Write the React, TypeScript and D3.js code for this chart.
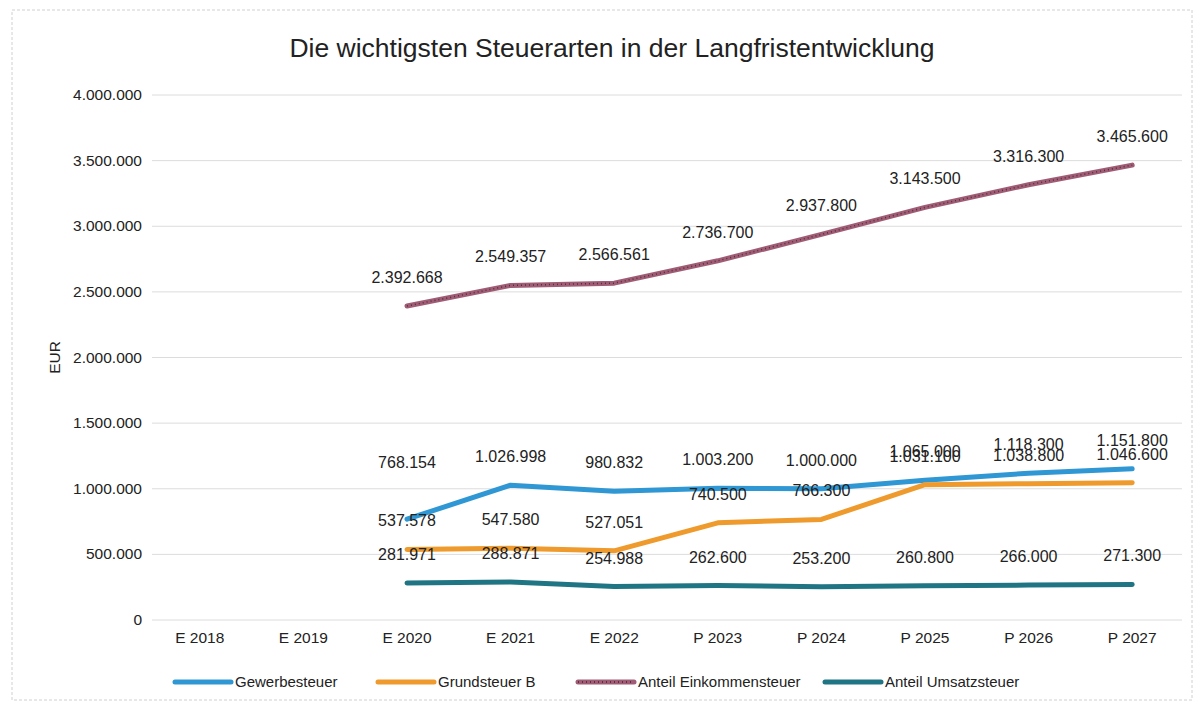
import React from "react";
import * as d3 from "d3";

const categories = ["E 2018", "E 2019", "E 2020", "E 2021", "E 2022", "P 2023", "P 2024", "P 2025", "P 2026", "P 2027"];
const gewerbesteuer: (number | null)[] = [null, null, 768154, 1026998, 980832, 1003200, 1000000, 1065000, 1118300, 1151800];
const grundsteuerB: (number | null)[] = [null, null, 537578, 547580, 527051, 740500, 766300, 1031100, 1038800, 1046600];
const einkommensteuer: (number | null)[] = [null, null, 2392668, 2549357, 2566561, 2736700, 2937800, 3143500, 3316300, 3465600];
const umsatzsteuer: (number | null)[] = [null, null, 281971, 288871, 254988, 262600, 253200, 260800, 266000, 271300];
const yTicks = [0, 500000, 1000000, 1500000, 2000000, 2500000, 3000000, 3500000, 4000000];

const series = [
  { name: "Gewerbesteuer", values: gewerbesteuer, color: "#2f97d4", speckle: false },
  { name: "Grundsteuer B", values: grundsteuerB, color: "#ef9a2c", speckle: false },
  { name: "Anteil Einkommensteuer", values: einkommensteuer, color: "#a05c74", speckle: true },
  { name: "Anteil Umsatzsteuer", values: umsatzsteuer, color: "#1f7583", speckle: false },
];

const fmt = (v: number) => d3.format(",")(v).replace(/,/g, ".");

export default function App() {
  const W = 1200, H = 703;
  const left = 148, right = 1184, top = 95, bottom = 620;
  const x = d3.scaleBand<string>().domain(categories).range([left, right]);
  const cx = (c: string) => (x(c) as number) + x.bandwidth() / 2;
  const y = d3.scaleLinear().domain([0, 4000000]).range([bottom, top]);
  const font = "'Liberation Sans', Arial, sans-serif";

  const line = d3.line<[string, number | null]>()
    .defined((d) => d[1] !== null)
    .x((d) => cx(d[0]))
    .y((d) => y(d[1] as number));

  const legendX = [175, 378, 578, 825];

  return (
    <svg width={W} height={H} style={{ position: "absolute", left: 0, top: 0, background: "#fff" }} fontFamily={font}>
      <rect x={12} y={10} width={1180} height={690} fill="#fff" stroke="#d0d0d0" strokeDasharray="3 2" />
      <text x={612} y={57} textAnchor="middle" fontSize={26.5} fill="#222">Die wichtigsten Steuerarten in der Langfristentwicklung</text>
      {yTicks.map((t) => (
        <g key={t}>
          <line x1={left + 4} x2={right - 2} y1={y(t)} y2={y(t)} stroke="#dcdcdc" strokeWidth={1} />
          <text x={142} y={y(t) + 5} textAnchor="end" fontSize={15.5} fill="#222">{fmt(t)}</text>
        </g>
      ))}
      <text transform={`translate(60,${(top + bottom) / 2}) rotate(-90)`} textAnchor="middle" fontSize={15.5} fill="#222">EUR</text>
      {categories.map((c) => (
        <text key={c} x={cx(c)} y={643} textAnchor="middle" fontSize={15.5} fill="#222">{c}</text>
      ))}
      {series.map((s) => {
        const pts = categories.map((c, i) => [c, s.values[i]] as [string, number | null]);
        const d = line(pts) || "";
        return (
          <g key={s.name}>
            <path d={d} fill="none" stroke={s.color} strokeWidth={5} strokeLinejoin="round" strokeLinecap="round" />
            {s.speckle && (
              <path d={d} fill="none" stroke="#3a2530" strokeWidth={1.5} strokeDasharray="1 3" opacity={0.8} />
            )}
          </g>
        );
      })}
      {series.map((s) =>
        categories.map((c, i) => {
          const v = s.values[i];
          if (v === null) return null;
          const dy = s.name === "Gewerbesteuer" && i === 2 ? -51 : -23;
          return (
            <text key={s.name + c} x={cx(c)} y={y(v) + dy} textAnchor="middle" fontSize={16} fill="#222">{fmt(v)}</text>
          );
        })
      )}
      {series.map((s, i) => (
        <g key={s.name}>
          <line x1={legendX[i]} x2={legendX[i] + 56} y1={682} y2={682} stroke={s.color} strokeWidth={5} strokeLinecap="round" />
          {s.speckle && (
            <line x1={legendX[i]} x2={legendX[i] + 56} y1={682} y2={682} stroke="#3a2530" strokeWidth={1.5} strokeDasharray="1 3" />
          )}
          <text x={legendX[i] + 60} y={687} fontSize={15} fill="#222">{s.name}</text>
        </g>
      ))}
    </svg>
  );
}
